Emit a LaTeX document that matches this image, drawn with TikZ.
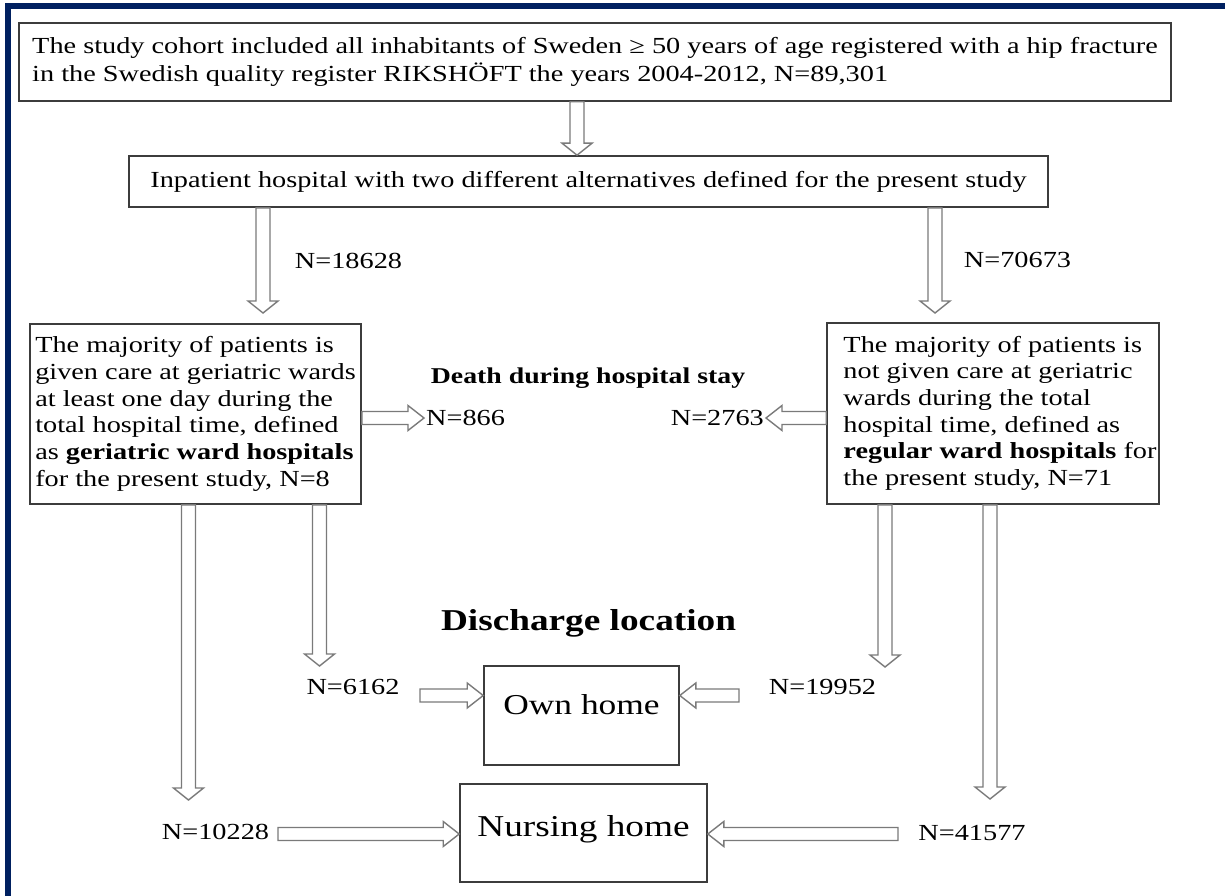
\documentclass[tikz,border=0pt]{standalone}
\usepackage{fontspec}
\setmainfont{Liberation Serif}[FakeStretch=1.23]
\usetikzlibrary{calc}
\definecolor{navy}{HTML}{002060}
\definecolor{boxline}{HTML}{3C3C3C}
\definecolor{arrline}{HTML}{7A7A7A}
\newcommand\fsz[2]{\fontsize{#1}{#2}\selectfont}
\tikzset{
  box/.style={draw=boxline, line width=1.6pt, fill=white, inner sep=0pt, align=left},
  lab/.style={inner sep=2pt, font=\fsz{23}{28}},
  arrbase/.style={draw=arrline, line width=1.4pt, fill=white, line join=miter},
  vdown/.style={arrbase,
    to path={let \p1=(\tikztostart), \p2=(\tikztotarget) in
      (\x1-7pt,\y1) -- (\x1-7pt,\y2+12pt) -- (\x1-15pt,\y2+12pt) -- (\x1,\y2)
      -- (\x1+15pt,\y2+12pt) -- (\x1+7pt,\y2+12pt) -- (\x1+7pt,\y1) -- cycle}},
  hright/.style={arrbase,
    to path={let \p1=(\tikztostart), \p2=(\tikztotarget) in
      (\x1,\y1+6.5pt) -- (\x2-16pt,\y1+6.5pt) -- (\x2-16pt,\y1+12.5pt) -- (\x2,\y1)
      -- (\x2-16pt,\y1-12.5pt) -- (\x2-16pt,\y1-6.5pt) -- (\x1,\y1-6.5pt) -- cycle}},
  hleft/.style={arrbase,
    to path={let \p1=(\tikztostart), \p2=(\tikztotarget) in
      (\x1,\y1+6.5pt) -- (\x2+16pt,\y1+6.5pt) -- (\x2+16pt,\y1+12.5pt) -- (\x2,\y1)
      -- (\x2+16pt,\y1-12.5pt) -- (\x2+16pt,\y1-6.5pt) -- (\x1,\y1-6.5pt) -- cycle}},
}
\begin{document}
\begin{tikzpicture}[x=1pt,y=-1pt]
\useasboundingbox (0,0) rectangle (1225,896);
\fill[white] (0,0) rectangle (1225,896);
% frame (top and left edges visible)
\draw[navy, line width=6pt, line join=miter] (7.5,896) -- (7.5,6.3) -- (1225,6.3);

% boxes
\node[box, minimum width=1152pt, minimum height=78pt, font=\fsz{23}{28}] (b1) at (595,62)
  {The study cohort included all inhabitants of Sweden ≥ 50 years of age registered with a hip fracture\\
   in the Swedish quality register RIKSHÖFT the years 2004-2012, N=89,301};
\node[box, minimum width=919pt, minimum height=51pt, font=\fsz{23}{28}] (b2) at (588.5,181.5)
  {Inpatient hospital with two different alternatives defined for the present study};
\node[box, minimum width=331pt, minimum height=180pt, font=\fsz{23}{26.7}] (b3) at (195.5,414)
  {The majority of patients is\\
   given care at geriatric wards\\
   at least one day during the\\
   total hospital time, defined\\
   as \textbf{geriatric ward hospitals}\\
   for the present study, N=8};
\node[box, minimum width=332pt, minimum height=181pt, font=\fsz{23}{26.7}] (b4) at (993,413.5)
  {\begin{tabular}{@{\hspace{14pt}}l@{}}
   The majority of patients is\\
   not given care at geriatric\\
   wards during the total\\
   hospital time, defined as\\
   \textbf{regular ward hospitals} for\\
   the present study, N=71
   \end{tabular}};
\node[box, minimum width=195pt, minimum height=99pt, font=\fsz{28.8}{34}, text depth=21pt] (b5) at (581.5,715.5) {Own home};
\node[box, minimum width=247pt, minimum height=98pt, font=\fsz{30.3}{36}, text depth=15pt] (b6) at (583.5,833) {Nursing home};

% labels
\node[lab] (n18628) at (348.5,261) {N=18628};
\node[lab] (n70673) at (1017.5,260) {N=70673};
\node[lab, font=\bfseries\fsz{22.6}{28}] (death) at (588,378) {Death during hospital stay};
\node[lab, anchor=west] (n866) at (424,418) {N=866};
\node[lab, anchor=east] (n2763) at (766,418) {N=2763};
\node[lab, font=\bfseries\fsz{30.3}{36}] (disch) at (588.5,623) {Discharge location};
\node[lab] (n6162) at (353,687) {N=6162};
\node[lab] (n19952) at (822.5,687) {N=19952};
\node[lab] (n10228) at (215.5,832) {N=10228};
\node[lab] (n41577) at (972,833) {N=41577};

% helper coordinates
\coordinate (c1) at (577,0);
\coordinate (c2) at (263,0);
\coordinate (c3) at (935,0);
\coordinate (tA) at (188.5,800);
\coordinate (tB) at (319.5,666);
\coordinate (tC) at (885,667);
\coordinate (tD) at (990,799);
\coordinate (s1) at (420,695.5);
\coordinate (s2) at (739,695.5);
\coordinate (s3) at (278,834);
\coordinate (s4) at (898,834);
\coordinate (t2) at (263,313);
\coordinate (t3) at (935,313);

% arrows
\draw[vdown] (b1.south -| c1) to (b2.north -| c1);
\draw[vdown] (b2.south -| c2) to (t2);
\draw[vdown] (b2.south -| c3) to (t3);
\draw[hright] (b3.east |- n866) to (n866.west);
\draw[hleft] (b4.west |- n2763) to (n2763.east);
\draw[vdown] (b3.south -| tA) to (tA);
\draw[vdown] (b3.south -| tB) to (tB);
\draw[vdown] (b4.south -| tC) to (tC);
\draw[vdown] (b4.south -| tD) to (tD);
\draw[hright] (s1) to (b5.west |- s1);
\draw[hleft] (s2) to (b5.east |- s2);
\draw[hright] (s3) to (b6.west |- s3);
\draw[hleft] (s4) to (b6.east |- s4);
\end{tikzpicture}
\end{document}
